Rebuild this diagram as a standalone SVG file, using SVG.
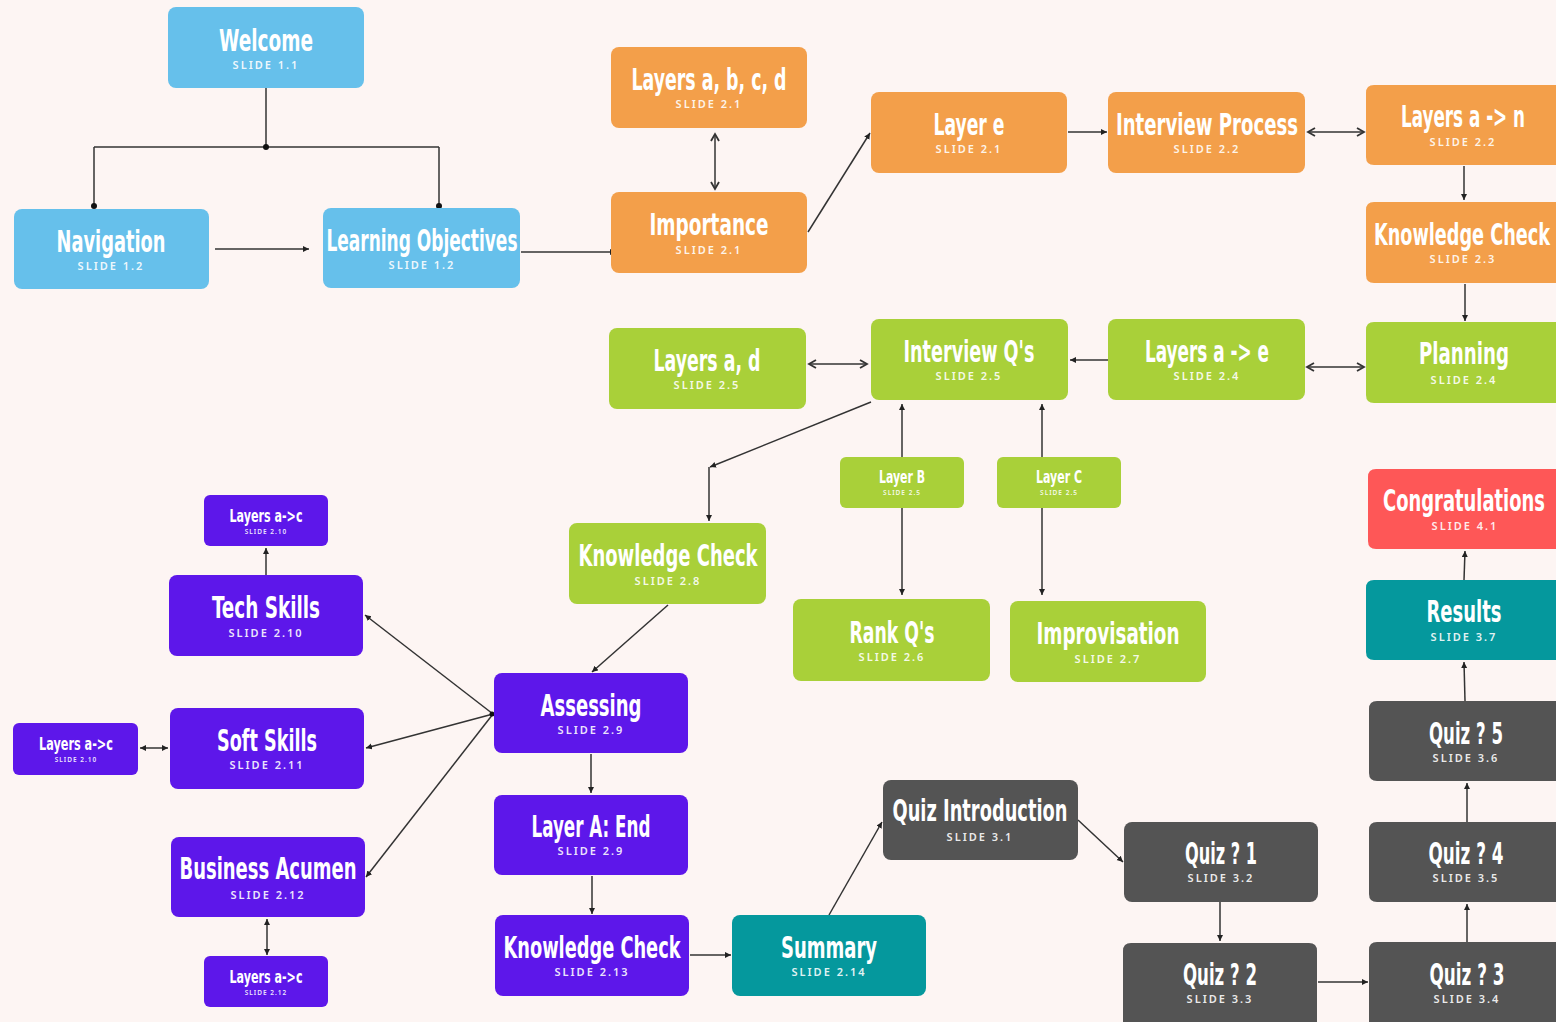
<svg xmlns="http://www.w3.org/2000/svg" width="1556" height="1022" viewBox="0 0 1556 1022">
<style>
.t{font-family:"Liberation Sans Narrow","DejaVu Sans Condensed","Liberation Sans",sans-serif;font-weight:700;font-size:31px;fill:#fff;text-anchor:middle}
.ts{font-size:18px}
.s{font-family:"Noto Sans","DejaVu Sans",sans-serif;font-weight:600;font-size:11px;letter-spacing:2px;fill:#fff;fill-opacity:0.9;text-anchor:middle}
.ss{font-size:6.5px;letter-spacing:1px}
.blue{fill:#66C0EB}
.orange{fill:#F39F4A}
.green{fill:#A9D039}
.purple{fill:#5D17EA}
.gray{fill:#545454}
.teal{fill:#05989D}
.red{fill:#FE5757}
.c path{fill:none;stroke:#333;stroke-width:1.5}
</style>
<defs>
<marker id="a" markerUnits="userSpaceOnUse" markerWidth="8" markerHeight="8" refX="6" refY="3" orient="auto-start-reverse"><path d="M0,0 L6,3 L0,6 z" fill="#222"/></marker>
<marker id="d" markerUnits="userSpaceOnUse" markerWidth="8" markerHeight="8" refX="4" refY="4"><circle cx="4" cy="4" r="3" fill="#111"/></marker>
<marker id="v" markerUnits="userSpaceOnUse" markerWidth="12" markerHeight="12" refX="8" refY="5" orient="auto-start-reverse"><path d="M1,1 L8,5 L1,9" fill="none" stroke="#333" stroke-width="1.8"/></marker>
</defs>
<rect width="1556" height="1022" fill="#FDF5F3"/>

<g class="c" id="connectors">
<path d="M266,88 V147"/>
<path d="M94,147 H439"/>
<path d="M94,147 V206" marker-end="url(#d)"/>
<path d="M439,147 V206" marker-end="url(#d)"/>
<circle cx="266" cy="147" r="3" fill="#111"/>
<path d="M215,249 H309" marker-end="url(#a)"/>
<path d="M521,252 H616" marker-end="url(#a)"/>
<path d="M715,134 V189" marker-start="url(#v)" marker-end="url(#v)"/>
<path d="M808,232 L870,133" marker-end="url(#a)"/>
<path d="M1068,132 H1107" marker-end="url(#a)"/>
<path d="M1308,132 H1364" marker-start="url(#v)" marker-end="url(#v)"/>
<path d="M1464,166 V200" marker-end="url(#a)"/>
<path d="M1465,284 V321" marker-end="url(#a)"/>
<path d="M1307,367 H1364" marker-start="url(#v)" marker-end="url(#v)"/>
<path d="M1108,360 H1070" marker-end="url(#a)"/>
<path d="M809,364 H867" marker-start="url(#v)" marker-end="url(#v)"/>
<path d="M871,402 L710,467" marker-end="url(#a)"/>
<path d="M709,467 V521" marker-end="url(#a)"/>
<path d="M902,457 V404" marker-end="url(#a)"/>
<path d="M902,508 V595" marker-end="url(#a)"/>
<path d="M1042,457 V404" marker-end="url(#a)"/>
<path d="M1042,508 V595" marker-end="url(#a)"/>
<path d="M668,605 L592,672" marker-end="url(#a)"/>
<path d="M493,714 L365,615" marker-end="url(#a)"/>
<path d="M493,714 L366,748" marker-end="url(#a)"/>
<path d="M493,714 L366,877" marker-end="url(#a)"/>
<circle cx="492" cy="714" r="2.5" fill="#111"/>
<path d="M266,575 V548" marker-end="url(#a)"/>
<path d="M168,748 H140" marker-start="url(#a)" marker-end="url(#a)"/>
<path d="M267,919 V955" marker-start="url(#a)" marker-end="url(#a)"/>
<path d="M591,754 V793" marker-end="url(#a)"/>
<path d="M592,876 V914" marker-end="url(#a)"/>
<path d="M690,955 H731" marker-end="url(#a)"/>
<path d="M829,915 L882,822" marker-end="url(#a)"/>
<path d="M1078,820 L1123,862" marker-end="url(#a)"/>
<path d="M1220,902 V941" marker-end="url(#a)"/>
<path d="M1318,982 H1368" marker-end="url(#a)"/>
<path d="M1467,942 V904" marker-end="url(#a)"/>
<path d="M1467,822 V783" marker-end="url(#a)"/>
<path d="M1465,701 L1464,662" marker-end="url(#a)"/>
<path d="M1464,580 L1465,551" marker-end="url(#a)"/>
</g>

<g id="welcome"><rect class="blue" x="168" y="7" width="196" height="81" rx="8"/><text class="t" x="266" y="51" textLength="94" lengthAdjust="spacingAndGlyphs">Welcome</text><text class="s" x="266" y="69">SLIDE 1.1</text></g>
<g id="navigation"><rect class="blue" x="14" y="209" width="195" height="80" rx="8"/><text class="t" x="111" y="252" textLength="109" lengthAdjust="spacingAndGlyphs">Navigation</text><text class="s" x="111" y="270">SLIDE 1.2</text></g>
<g id="learning-objectives"><rect class="blue" x="323" y="208" width="197" height="80" rx="8"/><text class="t" x="422" y="251" textLength="191" lengthAdjust="spacingAndGlyphs">Learning Objectives</text><text class="s" x="422" y="269">SLIDE 1.2</text></g>

<g id="layers-abcd"><rect class="orange" x="611" y="47" width="196" height="81" rx="8"/><text class="t" x="709" y="90" textLength="155" lengthAdjust="spacingAndGlyphs">Layers a, b, c, d</text><text class="s" x="709" y="108">SLIDE 2.1</text></g>
<g id="importance"><rect class="orange" x="611" y="192" width="196" height="81" rx="8"/><text class="t" x="709" y="235" textLength="119" lengthAdjust="spacingAndGlyphs">Importance</text><text class="s" x="709" y="254">SLIDE 2.1</text></g>
<g id="layer-e"><rect class="orange" x="871" y="92" width="196" height="81" rx="8"/><text class="t" x="969" y="135" textLength="71" lengthAdjust="spacingAndGlyphs">Layer e</text><text class="s" x="969" y="153">SLIDE 2.1</text></g>
<g id="interview-process"><rect class="orange" x="1108" y="92" width="197" height="81" rx="8"/><text class="t" x="1207" y="135" textLength="182" lengthAdjust="spacingAndGlyphs">Interview Process</text><text class="s" x="1207" y="153">SLIDE 2.2</text></g>
<g id="layers-a-n"><path class="orange" d="M1374,85 H1556 V165 H1374 Q1366,165 1366,157 V93 Q1366,85 1374,85 Z"/><text class="t" style="font-size:18px" transform="translate(1463,127) scale(1,1.72)" x="0" y="0" textLength="124" lengthAdjust="spacingAndGlyphs">Layers a -&gt; n</text><text class="s" x="1463" y="146">SLIDE 2.2</text></g>
<g id="knowledge-check-23"><path class="orange" d="M1374,202 H1556 V283 H1374 Q1366,283 1366,275 V210 Q1366,202 1374,202 Z"/><text class="t" style="font-size:18px" transform="translate(1462,245) scale(1,1.72)" x="0" y="0" textLength="176" lengthAdjust="spacingAndGlyphs">Knowledge Check</text><text class="s" x="1463" y="263">SLIDE 2.3</text></g>

<g id="planning"><path class="green" d="M1374,322 H1556 V403 H1374 Q1366,403 1366,395 V330 Q1366,322 1374,322 Z"/><text class="t" x="1464" y="364" textLength="90" lengthAdjust="spacingAndGlyphs">Planning</text><text class="s" x="1464" y="384">SLIDE 2.4</text></g>
<g id="layers-a-e"><rect class="green" x="1108" y="319" width="197" height="81" rx="8"/><text class="t" x="1207" y="362" textLength="124" lengthAdjust="spacingAndGlyphs">Layers a -&gt; e</text><text class="s" x="1207" y="380">SLIDE 2.4</text></g>
<g id="interview-qs"><rect class="green" x="871" y="319" width="197" height="81" rx="8"/><text class="t" x="969" y="362" textLength="131" lengthAdjust="spacingAndGlyphs">Interview Q's</text><text class="s" x="969" y="380">SLIDE 2.5</text></g>
<g id="layers-a-d"><rect class="green" x="609" y="328" width="197" height="81" rx="8"/><text class="t" x="707" y="371" textLength="107" lengthAdjust="spacingAndGlyphs">Layers a, d</text><text class="s" x="707" y="389">SLIDE 2.5</text></g>
<g id="layer-b"><rect class="green" x="840" y="457" width="124" height="51" rx="6"/><text class="t ts" x="902" y="483" textLength="46" lengthAdjust="spacingAndGlyphs">Layer B</text><text class="s ss" x="902" y="495">SLIDE 2.5</text></g>
<g id="layer-c"><rect class="green" x="997" y="457" width="124" height="51" rx="6"/><text class="t ts" x="1059" y="483" textLength="46" lengthAdjust="spacingAndGlyphs">Layer C</text><text class="s ss" x="1059" y="495">SLIDE 2.5</text></g>
<g id="knowledge-check-28"><rect class="green" x="569" y="523" width="197" height="81" rx="8"/><text class="t" x="668" y="566" textLength="179" lengthAdjust="spacingAndGlyphs">Knowledge Check</text><text class="s" x="668" y="585">SLIDE 2.8</text></g>
<g id="rank-qs"><rect class="green" x="793" y="599" width="197" height="82" rx="8"/><text class="t" x="892" y="643" textLength="85" lengthAdjust="spacingAndGlyphs">Rank Q's</text><text class="s" x="892" y="661">SLIDE 2.6</text></g>
<g id="improvisation"><rect class="green" x="1010" y="601" width="196" height="81" rx="8"/><text class="t" x="1108" y="644" textLength="143" lengthAdjust="spacingAndGlyphs">Improvisation</text><text class="s" x="1108" y="663">SLIDE 2.7</text></g>

<g id="congratulations"><path class="red" d="M1376,469 H1556 V549 H1376 Q1368,549 1368,541 V477 Q1368,469 1376,469 Z"/><text class="t" style="font-size:18px" transform="translate(1464,511) scale(1,1.72)" x="0" y="0" textLength="162" lengthAdjust="spacingAndGlyphs">Congratulations</text><text class="s" x="1465" y="530">SLIDE 4.1</text></g>
<g id="results"><path class="teal" d="M1374,580 H1556 V660 H1374 Q1366,660 1366,652 V588 Q1366,580 1374,580 Z"/><text class="t" x="1464" y="622" textLength="75" lengthAdjust="spacingAndGlyphs">Results</text><text class="s" x="1464" y="641">SLIDE 3.7</text></g>
<g id="quiz-5"><path class="gray" d="M1377,701 H1556 V781 H1377 Q1369,781 1369,773 V709 Q1369,701 1377,701 Z"/><text class="t" x="1466" y="744" textLength="74" lengthAdjust="spacingAndGlyphs">Quiz ? 5</text><text class="s" x="1466" y="762">SLIDE 3.6</text></g>
<g id="quiz-4"><path class="gray" d="M1377,822 H1556 V902 H1377 Q1369,902 1369,894 V830 Q1369,822 1377,822 Z"/><text class="t" x="1466" y="864" textLength="75" lengthAdjust="spacingAndGlyphs">Quiz ? 4</text><text class="s" x="1466" y="882">SLIDE 3.5</text></g>
<g id="quiz-3"><path class="gray" d="M1377,942 H1556 V1022 H1369 V950 Q1369,942 1377,942 Z"/><text class="t" x="1467" y="985" textLength="75" lengthAdjust="spacingAndGlyphs">Quiz ? 3</text><text class="s" x="1467" y="1003">SLIDE 3.4</text></g>
<g id="quiz-2"><path class="gray" d="M1131,943 H1309 Q1317,943 1317,951 V1022 H1123 V951 Q1123,943 1131,943 Z"/><text class="t" x="1220" y="985" textLength="74" lengthAdjust="spacingAndGlyphs">Quiz ? 2</text><text class="s" x="1220" y="1003">SLIDE 3.3</text></g>
<g id="quiz-1"><rect class="gray" x="1124" y="822" width="194" height="80" rx="8"/><text class="t" x="1221" y="864" textLength="72" lengthAdjust="spacingAndGlyphs">Quiz ? 1</text><text class="s" x="1221" y="882">SLIDE 3.2</text></g>
<g id="quiz-introduction"><rect class="gray" x="883" y="780" width="195" height="80" rx="8"/><text class="t" x="980" y="821" textLength="175" lengthAdjust="spacingAndGlyphs">Quiz Introduction</text><text class="s" x="980" y="841">SLIDE 3.1</text></g>
<g id="summary"><rect class="teal" x="732" y="915" width="194" height="81" rx="8"/><text class="t" x="829" y="958" textLength="96" lengthAdjust="spacingAndGlyphs">Summary</text><text class="s" x="829" y="976">SLIDE 2.14</text></g>

<g id="assessing"><rect class="purple" x="494" y="673" width="194" height="80" rx="8"/><text class="t" x="591" y="716" textLength="101" lengthAdjust="spacingAndGlyphs">Assessing</text><text class="s" x="591" y="734">SLIDE 2.9</text></g>
<g id="layer-a-end"><rect class="purple" x="494" y="795" width="194" height="80" rx="8"/><text class="t" x="591" y="837" textLength="119" lengthAdjust="spacingAndGlyphs">Layer A: End</text><text class="s" x="591" y="855">SLIDE 2.9</text></g>
<g id="knowledge-check-213"><rect class="purple" x="495" y="915" width="194" height="81" rx="8"/><text class="t" x="592" y="958" textLength="177" lengthAdjust="spacingAndGlyphs">Knowledge Check</text><text class="s" x="592" y="976">SLIDE 2.13</text></g>
<g id="tech-skills"><rect class="purple" x="169" y="575" width="194" height="81" rx="8"/><text class="t" x="266" y="618" textLength="108" lengthAdjust="spacingAndGlyphs">Tech Skills</text><text class="s" x="266" y="637">SLIDE 2.10</text></g>
<g id="soft-skills"><rect class="purple" x="170" y="708" width="194" height="81" rx="8"/><text class="t" x="267" y="751" textLength="100" lengthAdjust="spacingAndGlyphs">Soft Skills</text><text class="s" x="267" y="769">SLIDE 2.11</text></g>
<g id="business-acumen"><rect class="purple" x="171" y="837" width="194" height="80" rx="8"/><text class="t" x="268" y="879" textLength="177" lengthAdjust="spacingAndGlyphs">Business Acumen</text><text class="s" x="268" y="899">SLIDE 2.12</text></g>
<g id="layers-a-c-210"><rect class="purple" x="204" y="495" width="124" height="51" rx="6"/><text class="t ts" x="266" y="522" textLength="73" lengthAdjust="spacingAndGlyphs">Layers a-&gt;c</text><text class="s ss" x="266" y="534">SLIDE 2.10</text></g>
<g id="layers-a-c-left"><rect class="purple" x="13" y="723" width="125" height="52" rx="6"/><text class="t ts" x="76" y="750" textLength="74" lengthAdjust="spacingAndGlyphs">Layers a-&gt;c</text><text class="s ss" x="76" y="762">SLIDE 2.10</text></g>
<g id="layers-a-c-212"><rect class="purple" x="204" y="956" width="124" height="51" rx="6"/><text class="t ts" x="266" y="983" textLength="73" lengthAdjust="spacingAndGlyphs">Layers a-&gt;c</text><text class="s ss" x="266" y="995">SLIDE 2.12</text></g>
</svg>
